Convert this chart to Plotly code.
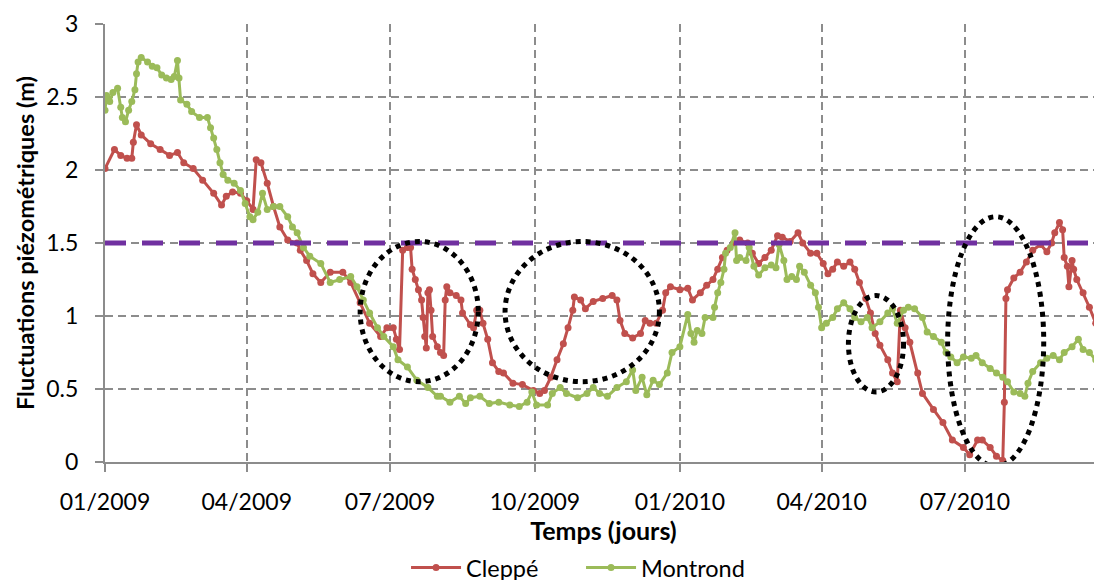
import pandas as pd
import plotly.graph_objects as go

START = pd.Timestamp("2009-01-01")

# Day offsets from 01/01/2009 and piezometric fluctuations (m)
cleppe_days = [0, 6, 10, 14, 17, 18, 20, 23, 29, 35, 41, 46, 50, 56, 62, 69, 74, 77, 81, 86,
               90, 94, 96, 99, 103, 107, 111, 116, 122, 124, 128, 132, 137, 143, 151, 156, 162, 168, 175, 179,
               183, 185, 187, 189, 192, 194, 195, 197, 199, 201, 202, 203, 204, 205, 206, 207, 208, 211, 213, 215,
               216, 217, 219, 223, 226, 227, 232, 234, 236, 238, 240, 243, 246, 250, 253, 259, 265, 272, 276, 279,
               283, 287, 291, 294, 297, 298, 302, 305, 310, 316, 322, 325, 327, 330, 335, 340, 343, 346, 350, 354,
               356, 359, 365, 370, 373, 378, 382, 386, 389, 392, 395, 399, 403, 408, 411, 415, 419, 423, 427, 430,
               435, 440, 443, 448, 452, 456, 459, 462, 465, 469, 473, 476, 479, 483, 486, 489, 492, 497, 500, 503,
               505, 508, 511, 516, 519, 526, 532, 538, 545, 549, 554, 557, 562, 566, 570, 571, 572, 573, 577, 581,
               585, 589, 594, 598, 601, 603, 606, 608, 609, 611, 612, 614, 615, 617, 621, 625, 629, 631, 633]
cleppe_vals = [2.01, 2.14, 2.10, 2.08, 2.08, 2.19, 2.31, 2.24, 2.18, 2.14, 2.10, 2.12, 2.05, 2.01, 1.93, 1.84, 1.76, 1.82, 1.85, 1.84,
               1.79, 1.73, 2.07, 2.05, 1.91, 1.75, 1.61, 1.52, 1.50, 1.45, 1.38, 1.29, 1.23, 1.30, 1.30, 1.23, 1.09, 0.95, 0.86, 0.92,
               0.92, 0.84, 0.77, 1.45, 1.47, 1.47, 1.32, 1.25, 1.18, 1.11, 0.99, 0.86, 0.78, 1.16, 1.18, 1.04, 0.86, 0.79, 0.75, 0.73,
               1.11, 1.20, 1.16, 1.14, 1.11, 1.02, 0.94, 0.92, 1.04, 1.04, 0.95, 0.84, 0.68, 0.62, 0.61, 0.54, 0.53, 0.49, 0.47, 0.49,
               0.58, 0.70, 0.81, 0.92, 1.04, 1.13, 1.11, 1.05, 1.10, 1.12, 1.14, 1.11, 0.97, 0.88, 0.85, 0.88, 0.97, 0.95, 0.95, 1.04,
               1.16, 1.20, 1.18, 1.19, 1.11, 1.16, 1.21, 1.25, 1.32, 1.40, 1.45, 1.50, 1.52, 1.50, 1.43, 1.36, 1.40, 1.45, 1.55, 1.54,
               1.51, 1.57, 1.50, 1.43, 1.43, 1.36, 1.29, 1.32, 1.37, 1.34, 1.37, 1.32, 1.23, 1.12, 1.02, 0.88, 0.80, 0.70, 0.61, 0.55,
               1.04, 0.92, 0.82, 0.61, 0.47, 0.36, 0.27, 0.15, 0.10, 0.05, 0.15, 0.15, 0.10, 0.04, 0.01, 0.41, 1.12, 1.18, 1.26, 1.30,
               1.37, 1.45, 1.49, 1.44, 1.50, 1.57, 1.64, 1.59, 1.40, 1.34, 1.20, 1.38, 1.32, 1.25, 1.16, 1.06, 0.95, 1.02, 1.11]

montrond_days = [0, 1, 3, 5, 8, 10, 11, 13, 15, 17, 19, 20, 21, 23, 27, 30, 33, 36, 39, 42,
                 44, 46, 47, 48, 52, 55, 60, 65, 67, 69, 71, 73, 75, 78, 82, 86, 89, 92, 94, 97,
                 100, 103, 107, 111, 116, 119, 122, 126, 130, 137, 143, 149, 156, 160, 164, 168, 173, 177, 183, 186,
                 192, 198, 205, 211, 213, 219, 225, 229, 232, 238, 244, 250, 257, 263, 268, 271, 274, 281, 284, 289,
                 293, 300, 306, 310, 314, 319, 325, 331, 335, 337, 341, 344, 348, 352, 357, 360, 365, 370, 372, 374,
                 376, 379, 381, 386, 387, 389, 391, 393, 394, 397, 400, 401, 403, 407, 409, 412, 415, 419, 423, 426,
                 428, 431, 433, 436, 439, 441, 444, 448, 451, 453, 455, 458, 462, 465, 469, 473, 476, 480, 484, 487,
                 492, 497, 500, 503, 507, 510, 514, 519, 522, 526, 531, 534, 537, 541, 545, 550, 553, 557, 562, 566,
                 570, 573, 577, 581, 584, 586, 589, 594, 598, 602, 606, 609, 614, 618, 621, 625, 629, 633]
montrond_vals = [2.41, 2.51, 2.47, 2.53, 2.56, 2.43, 2.36, 2.33, 2.41, 2.47, 2.55, 2.66, 2.74, 2.77, 2.74, 2.71, 2.70, 2.65, 2.63, 2.62,
                 2.64, 2.75, 2.63, 2.48, 2.45, 2.40, 2.36, 2.36, 2.29, 2.22, 2.14, 2.05, 1.97, 1.93, 1.91, 1.86, 1.77, 1.68, 1.66, 1.71,
                 1.84, 1.73, 1.75, 1.75, 1.68, 1.61, 1.57, 1.47, 1.41, 1.36, 1.23, 1.25, 1.27, 1.20, 1.11, 1.02, 0.92, 0.86, 0.79, 0.70,
                 0.65, 0.56, 0.51, 0.45, 0.45, 0.41, 0.45, 0.40, 0.44, 0.45, 0.40, 0.41, 0.39, 0.38, 0.41, 0.48, 0.39, 0.39, 0.47, 0.51,
                 0.47, 0.44, 0.47, 0.51, 0.47, 0.45, 0.51, 0.55, 0.63, 0.49, 0.58, 0.46, 0.56, 0.53, 0.61, 0.75, 0.79, 1.01, 0.88, 0.82,
                 0.90, 0.88, 0.99, 0.99, 1.06, 1.16, 1.23, 1.32, 1.43, 1.47, 1.57, 1.38, 1.40, 1.38, 1.47, 1.34, 1.28, 1.33, 1.35, 1.33,
                 1.49, 1.38, 1.25, 1.27, 1.25, 1.34, 1.30, 1.21, 1.16, 1.06, 0.92, 0.95, 0.99, 1.05, 1.09, 1.05, 0.99, 0.96, 0.99, 0.92,
                 0.96, 1.02, 1.05, 0.95, 1.04, 1.06, 1.05, 0.99, 0.89, 0.86, 0.82, 0.75, 0.72, 0.68, 0.72, 0.71, 0.73, 0.68, 0.64, 0.61,
                 0.58, 0.55, 0.48, 0.47, 0.45, 0.54, 0.62, 0.68, 0.71, 0.73, 0.70, 0.75, 0.79, 0.84, 0.77, 0.75, 0.70, 0.75]

threshold = 1.5
tick_months = ["2009-01-01", "2009-04-01", "2009-07-01", "2009-10-01",
               "2010-01-01", "2010-04-01", "2010-07-01"]
tick_labels = ["01/2009", "04/2009", "07/2009", "10/2009", "01/2010", "04/2010", "07/2010"]
y_ticks = [0, 0.5, 1, 1.5, 2, 2.5, 3]

# Highlight ellipses (day0, day1, value_low, value_high)
ellipses = [(162, 237, 0.55, 1.51), (254, 352, 0.55, 1.51),
            (472, 507, 0.48, 1.14), (535, 596, -0.03, 1.68)]


def to_dates(days):
    return START + pd.to_timedelta(days, unit="D")


FONT = "Lato"
RED = "#C0504D"
GREEN = "#9BBB59"
GRID = "#8C8C8C"

fig = go.Figure()
fig.add_trace(go.Scatter(x=to_dates(cleppe_days), y=cleppe_vals, name="Cleppé",
                         mode="lines+markers", line=dict(color=RED, width=3),
                         marker=dict(color=RED, size=7)))
fig.add_trace(go.Scatter(x=to_dates(montrond_days), y=montrond_vals, name="Montrond",
                         mode="lines+markers", line=dict(color=GREEN, width=3),
                         marker=dict(color=GREEN, size=7)))

shapes = [dict(type="line", xref="paper", x0=0, x1=1, yref="y", y0=threshold, y1=threshold,
               line=dict(color="#7030A0", width=5, dash="21px,16px"), layer="above")]
for d0, d1, v0, v1 in ellipses:
    shapes.append(dict(type="circle", xref="x", yref="y",
                       x0=to_dates([d0])[0], x1=to_dates([d1])[0], y0=v0, y1=v1,
                       line=dict(color="black", width=5, dash="dot"), layer="above"))

# the page body adds an 8px offset; margins compensate for it
fig.update_layout(
    width=1102, height=580,
    margin=dict(l=97, r=8, t=16, b=126, autoexpand=False),
    paper_bgcolor="white", plot_bgcolor="white",
    font=dict(family=FONT, size=23, color="black"),
    shapes=shapes,
    showlegend=True,
    legend=dict(orientation="h", xref="container", yref="container",
                x=0.52, xanchor="center", y=0.035, yanchor="middle",
                font=dict(family=FONT, size=23.5), itemwidth=50, entrywidth=110,
                tracegroupgap=0),
    xaxis=dict(
        range=[START, to_dates([633])[0]],
        tickvals=tick_months, ticktext=tick_labels,
        showgrid=True, gridcolor=GRID, gridwidth=1.5, griddash="8px,5px",
        showline=True, linecolor=GRID, linewidth=2,
        ticks="outside", ticklen=8, tickcolor=GRID, tickwidth=2,
        tickfont=dict(family=FONT, size=23), ticklabelstandoff=10,
        title=dict(text="<b>Temps (jours)</b>", font=dict(family=FONT, size=25), standoff=1),
        zeroline=False, automargin=False,
    ),
    yaxis=dict(
        range=[0, 3], tickvals=y_ticks, ticktext=["0", "0.5", "1", "1.5", "2", "2.5", "3"],
        showgrid=True, gridcolor=GRID, gridwidth=1.5, griddash="8px,5px",
        showline=True, linecolor=GRID, linewidth=2,
        ticks="outside", ticklen=8, tickcolor=GRID, tickwidth=2,
        tickfont=dict(family=FONT, size=23), ticklabelstandoff=12,
        title=dict(text="<b>Fluctuations piézométriques (m)</b>", font=dict(family=FONT, size=23.5), standoff=5),
        zeroline=False, automargin=False,
    ),
)

fig.write_html("out.html")
